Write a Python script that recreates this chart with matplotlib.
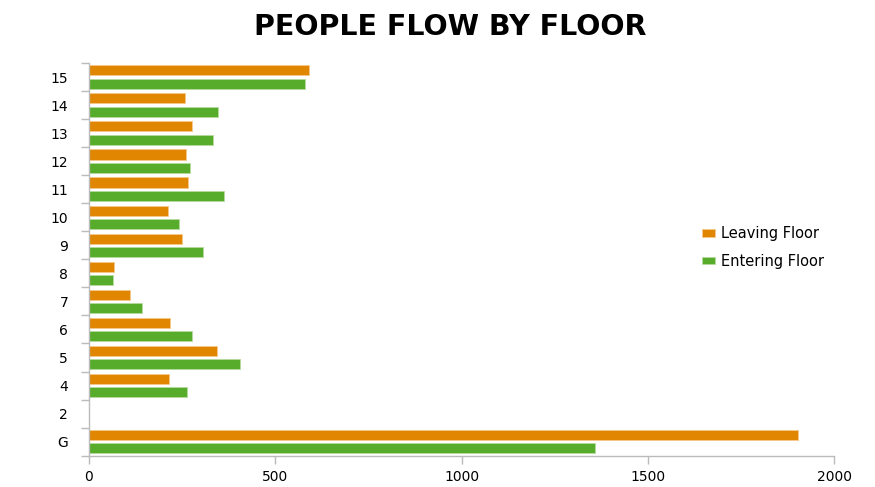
import matplotlib
matplotlib.use("Agg")
import matplotlib.pyplot as plt
import numpy as np

floors = ["G", "2", "4", "5", "6", "7", "8", "9", "10", "11", "12", "13", "14", "15"]
leaving = [1903, 0, 215, 344, 218, 111, 68, 250, 213, 267, 261, 277, 258, 591]
entering = [1358, 0, 264, 405, 276, 141, 64, 307, 242, 362, 270, 332, 347, 580]
xticks = [0, 500, 1000, 1500, 2000]

plt.rcParams['font.family'] = ['DejaVu Sans']

fig = plt.figure(figsize=(8.75, 4.87), dpi=100)
ax = fig.add_axes([0.1017, 0.0643, 0.8518, 0.8063])

y = np.arange(len(floors))
h = 0.36
off = 0.24
orange = "#E08600"
green = "#58AC2C"
ax.barh(y + off, leaving, height=h, color=orange, edgecolor="#F6C98A", linewidth=0.6, label="Leaving Floor")
ax.barh(y - off, entering, height=h, color=green, edgecolor="#B5DC9E", linewidth=0.6, label="Entering Floor")

ax.set_xlim(0, 2000)
ax.set_ylim(-0.5, len(floors) - 0.5)
ax.set_xticks(xticks)
ax.set_xticklabels([str(v) for v in xticks], fontsize=10)

ax.set_yticks(np.arange(len(floors) + 1) - 0.5)
ax.set_yticklabels([])
ax.set_yticks(y, minor=True)
ax.set_yticklabels(floors, minor=True, fontsize=10)
ax.tick_params(axis='y', which='minor', length=0, pad=15)
ax.tick_params(axis='y', which='major', length=6, color="#BBBBBB", width=1)
ax.tick_params(axis='x', length=6, color="#BBBBBB", width=1, pad=4)

for s in ["top", "right"]:
    ax.spines[s].set_visible(False)
for s in ["left", "bottom"]:
    ax.spines[s].set_color("#BBBBBB")
    ax.spines[s].set_linewidth(1)

leg = ax.legend(loc="center left", bbox_to_anchor=(695 / 875, 1 - 247.5 / 487),
                bbox_transform=fig.transFigure, frameon=False, borderpad=0,
                fontsize=10.5, handlelength=0.9, handleheight=0.45, labelspacing=0.85,
                handletextpad=0.35)

fig.text(0.515, 0.945, "PEOPLE FLOW BY FLOOR", ha="center", va="center",
         fontsize=20.5, fontweight="bold")

fig.savefig("out.png", dpi=100)
